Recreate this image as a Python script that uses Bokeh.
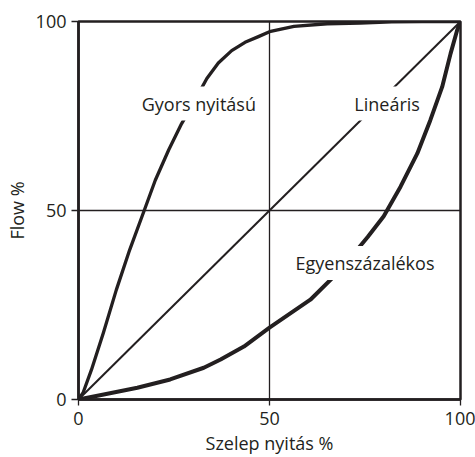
from bokeh.plotting import figure
from bokeh.models import FixedTicker, Range1d
from bokeh.core.properties import value
from bokeh.embed import file_html
from bokeh.resources import INLINE

# ---- data ----
ticks = [0, 50, 100]
grid_ticks = [50]

quick_x = [0, 1.2, 3.4, 6.5, 9.9, 13.4, 17.2, 20.1, 23.6, 27.0, 28.8, 33.6, 36.6, 40.1,
           43.6, 47.1, 50.3, 56.4, 65.1, 73.8, 82, 90, 100]
quick_y = [0, 1.8, 7.9, 17.6, 29.0, 39.6, 50, 58.0, 66.0, 73.0, 76.1, 84.9, 89.0, 92.3,
           94.5, 96.0, 97.4, 98.7, 99.4, 99.6, 99.9, 100, 100]

linear_x = [0, 100]
linear_y = [0, 100]

eq_x = [0, 6.6, 15.4, 24, 32.8, 37.2, 43.3, 50, 60.7, 68.6, 75.7, 79.9, 84.3, 88.7,
        92.1, 95.2, 97.4, 99.1, 100]
eq_y = [0, 1.3, 3.1, 5.3, 8.4, 10.6, 14, 19, 26.4, 34.3, 43, 48.5, 56.3, 65.1,
        73.9, 82.7, 91.5, 97.6, 100]

label_text = ["Gyors nyitású", "Lineáris", "Egyenszázalékos"]
label_x = [31.5, 80.8, 75]
label_y = [78.3, 78.3, 36.1]

x_title = "Szelep nyitás %"
y_title = "Flow %"

INK = "#231f20"
FONT = "Open Sans"

p = figure(width=475, height=457, x_range=Range1d(0, 100), y_range=Range1d(0, 100),
           output_backend="svg", toolbar_location=None,
           min_border_left=78, min_border_right=15, min_border_top=21, min_border_bottom=57)
p.background_fill_color = "white"
p.border_fill_color = "white"
p.outline_line_color = INK
p.outline_line_width = 2.5
p.outline_line_alpha = 1.0

for ax in (p.xaxis[0], p.yaxis[0]):
    ax.ticker = FixedTicker(ticks=ticks)
    ax.minor_tick_line_color = None
    ax.major_tick_in = 0
    ax.major_tick_line_color = INK
    ax.major_tick_line_width = 1.3
    ax.axis_line_color = INK
    ax.axis_line_width = 2.5
    ax.major_label_text_font = FONT
    ax.major_label_text_font_size = "18px"
    ax.major_label_text_color = INK
    ax.axis_label_text_font = FONT
    ax.axis_label_text_font_size = "18px"
    ax.axis_label_text_font_style = "normal"
    ax.axis_label_text_color = INK

p.xaxis.major_tick_out = 6
p.xaxis.major_label_standoff = 6
p.xaxis.axis_label = x_title
p.xaxis.axis_label_standoff = 3
p.yaxis.major_tick_out = 7
p.yaxis.major_label_standoff = 5
p.yaxis.axis_label = y_title
p.yaxis.axis_label_standoff = 4

p.xgrid.ticker = FixedTicker(ticks=grid_ticks)
p.ygrid.ticker = FixedTicker(ticks=grid_ticks)
p.grid.grid_line_color = INK
p.grid.grid_line_width = 1.3
p.grid.grid_line_alpha = 1.0

p.line(linear_x, linear_y, line_color=INK, line_width=2)
p.line(quick_x, quick_y, line_color=INK, line_width=3.3, line_join="round")
p.line(eq_x, eq_y, line_color=INK, line_width=4, line_join="round")

p.text(x=label_x, y=label_y, text=label_text, text_font=value(FONT), text_font_size="18px",
       text_color=INK, text_align="center", text_baseline="alphabetic",
       background_fill_color="white", padding=5)

open("out.html", "w").write(file_html(p, INLINE))
